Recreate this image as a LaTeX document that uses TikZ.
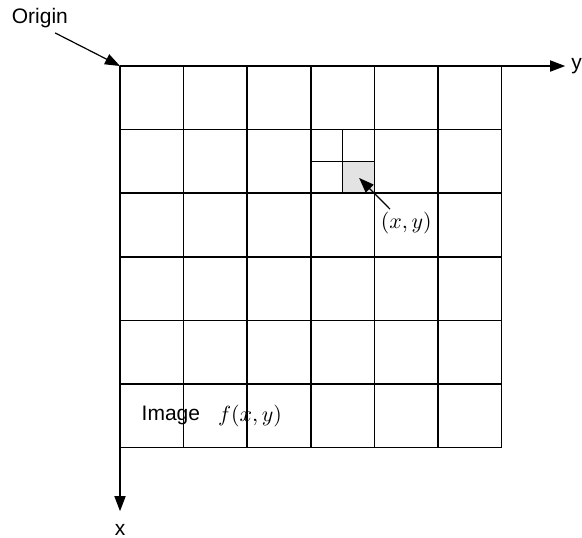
\documentclass[tikz,border=0pt]{standalone}
\usepackage{fontspec}
\setmainfont{Liberation Sans}
\usetikzlibrary{positioning,calc,arrows.meta}

\begin{document}
\begin{tikzpicture}[x=31.8pt,y=-31.8pt,
    grd/.style={line width=0.8pt},
    axis/.style={line width=0.8pt,-{Triangle[length=7.5pt,width=5.5pt]}},
    ptr/.style={line width=0.6pt,-{Triangle[length=7.5pt,width=5.5pt]}},
    lbl/.style={font=\fontsize{10.5}{12}\selectfont,inner sep=0pt}]

\useasboundingbox (-1.887,-1.038) rectangle (7.264,7.421);

% shaded pixel
\fill[gray!22] (3.5,1.5) rectangle (4,2);

% grid
\foreach \i in {1,...,6} {
  \draw[grd] (\i,0) -- (\i,6);
  \draw[grd] (0,\i) -- (6,\i);
}
\draw[grd] (3.5,1) -- (3.5,2);
\draw[grd] (3,1.5) -- (4,1.5);

% axes
\coordinate (o) at (0,0);
\coordinate (yend) at (7,0);
\coordinate (xend) at (0,7);
\draw[axis] (o) -- (yend);
\draw[axis] (o) -- (xend);
\node[lbl,anchor=west] (ylab) at (7.09,0) {y};
\node[lbl] (xlab) at (0,7.3) {x};

% labels
\node[lbl] (origin) at (-1.26,-0.76) {Origin};
\draw[ptr] (-1.02,-0.52) -- (o);

\coordinate (pix) at (3.76,1.76);
\node[lbl] (xy) at (4.5,2.47) {$(x,y)$};
\draw[ptr] (4.245,2.25) -- (pix);

\node[lbl] (img) at (0.8,5.5) {Image};
\node[lbl,right=0.27 of img] (fxy) {$f(x,y)$};

\end{tikzpicture}
\end{document}
